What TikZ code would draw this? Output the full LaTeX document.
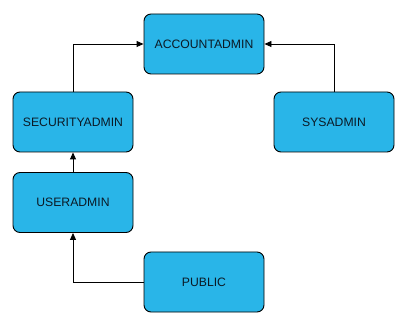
\documentclass[tikz,border=0pt]{standalone}
\usepackage{fontspec}
\setmainfont{Liberation Sans}
\usetikzlibrary{arrows.meta}
\definecolor{boxblue}{HTML}{29B5E8}
\definecolor{txt}{HTML}{0B1A26}
\begin{document}
\begin{tikzpicture}[x=1pt,y=-1pt,
  rolebox/.style={draw=black, line width=0.9pt, fill=boxblue, rounded corners=7pt,
    minimum width=120pt, minimum height=60pt, inner sep=0pt, text=txt,
    font=\fontsize{12.2}{14}\selectfont},
  conn/.style={line width=0.9pt, -{Triangle[length=7pt,width=6pt]}}]
\useasboundingbox (0,0) rectangle (407,323);
\node[rolebox] (acc) at (204,44) {ACCOUNTADMIN};
\node[rolebox] (sec) at (73,122) {SECURITYADMIN};
\node[rolebox] (sys) at (334,122) {SYSADMIN};
\node[rolebox] (usr) at (73,202.5) {USERADMIN};
\node[rolebox] (pub) at (204,282) {PUBLIC};
\draw[conn] (sec.north) |- (acc.west);
\draw[conn] (sys.north) |- (acc.east);
\draw[conn] (usr.north) -- (sec.south);
\draw[conn] (pub.west) -| (usr.south);
\end{tikzpicture}
\end{document}
